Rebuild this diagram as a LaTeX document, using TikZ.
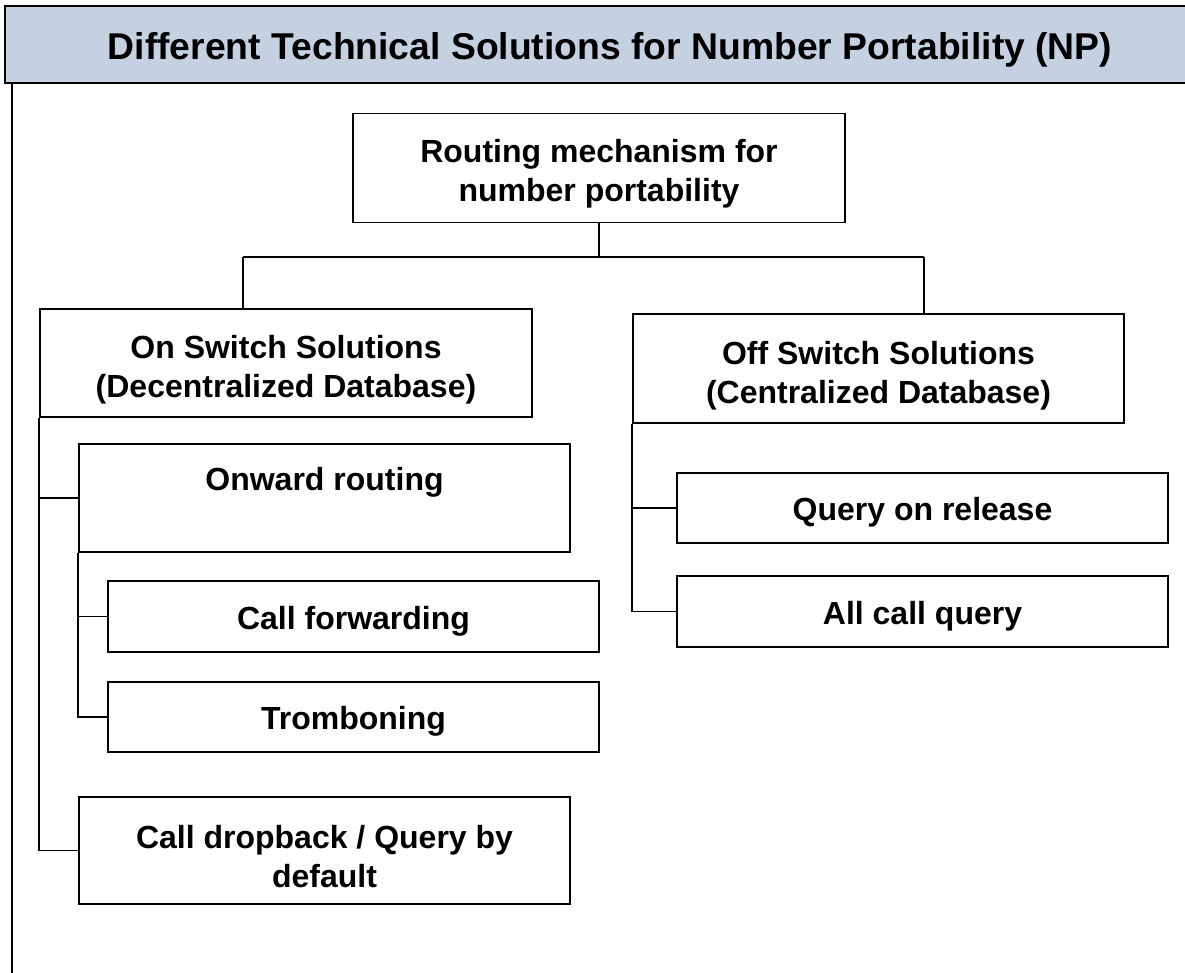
\documentclass[tikz,border=0pt]{standalone}
\usepackage{fontspec}
\setmainfont{Liberation Sans}
\definecolor{headfill}{RGB}{197,208,224}
\newcommand{\toprule}[1][32pt]{\rule{0pt}{#1}}
\tikzset{
  box/.style={draw=black, line width=1.8pt, rectangle, inner sep=0pt, align=center,
              font=\fontsize{32}{39}\selectfont\bfseries, fill=white},
  link/.style={draw=black, line width=1.8pt},
  frame/.style={draw=black, line width=2pt},
}
\begin{document}
\begin{tikzpicture}[x=1pt, y=-1pt]
\useasboundingbox (0,0) rectangle (1185,973);

% title bar and page frame
\fill[headfill] (5,6) rectangle (1195,83);
\draw[frame] (1195,6) -- (5,6) -- (5,83) -- (1195,83);
\draw[frame] (12,83) -- (12,980);
\node[font=\fontsize{37.3}{42}\selectfont\bfseries] (title) at (610,50) {Different Technical Solutions for Number Portability (NP)};

% boxes: centre, width, height
\node[box, minimum width=492pt, minimum height=109pt] (root)  at (599,168)   {\toprule[34pt]Routing mechanism for\\number portability};
\node[box, minimum width=492pt, minimum height=108pt] (onsw)  at (286,363)   {\toprule[36pt]On Switch Solutions\\(Decentralized Database)};
\node[box, minimum width=491pt, minimum height=109pt] (offsw) at (878.5,368.5) {\toprule[38pt]Off Switch Solutions\\(Centralized Database)};
\node[box, minimum width=491pt, minimum height=108pt] (onward) at (324.5,498) {Onward routing\\\mbox{}};
\node[box, minimum width=491pt, minimum height=71pt]  (callfwd) at (353.5,616.5) {\toprule Call forwarding};
\node[box, minimum width=491pt, minimum height=70pt]  (tromb) at (353.5,717) {\toprule Tromboning};
\node[box, minimum width=491pt, minimum height=107pt] (drop)  at (324.5,850.5) {\toprule[36pt]Call dropback / Query by\\default};
\node[box, minimum width=491pt, minimum height=70pt]  (qrel)  at (922.5,508) {\toprule Query on release};
\node[box, minimum width=491pt, minimum height=71pt]  (allq)  at (922.5,611.5) {\toprule All call query};

% top-level bus
\coordinate (busL) at (243,257);
\coordinate (busR) at (924,257);
\draw[link] (root.south) -- (root.south |- busL);
\draw[link] (busL) -- (busR);
\draw[link] (busL) -- (busL |- onsw.north);
\draw[link] (busR) -- (busR |- offsw.north);

% on-switch branch
\draw[link] (onsw.south west) |- (drop.west);
\draw[link] (onsw.south west |- onward.west) -- (onward.west);
\draw[link] (onward.south west) |- (tromb.west);
\draw[link] (onward.south west |- callfwd.west) -- (callfwd.west);

% off-switch branch
\draw[link] (offsw.south west) |- (allq.west);
\draw[link] (offsw.south west |- qrel.west) -- (qrel.west);
\end{tikzpicture}
\end{document}
